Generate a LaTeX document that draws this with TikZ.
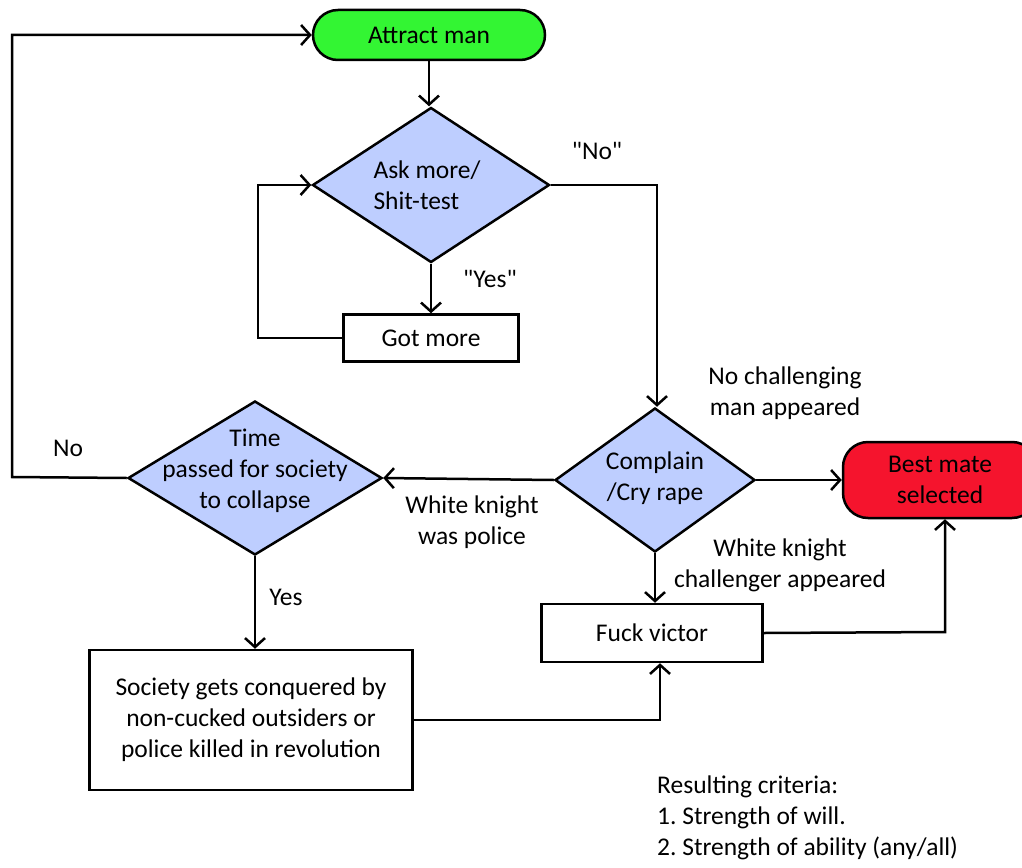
\documentclass[tikz,border=0pt]{standalone}
\usepackage{fontspec}
\setmainfont{Carlito}
\usetikzlibrary{shapes.geometric,arrows.meta,calc}
\definecolor{startgreen}{RGB}{51,245,51}
\definecolor{decblue}{RGB}{190,206,255}
\definecolor{endred}{RGB}{245,20,45}
\frenchspacing
\begin{document}
\begin{tikzpicture}[x=1pt,y=-1pt,
  every node/.style={font=\fontsize{25.5}{31}\selectfont},
  flow/.style={line width=2.5pt, draw=black},
  arr/.style={flow, -{Straight Barb[length=9pt,width=20pt,line width=2.5pt]}},
  pill/.style={draw, line width=2.5pt, rounded corners=25pt, inner sep=0pt, align=center},
  procbox/.style={draw, line width=2.5pt, fill=white, inner sep=0pt, align=center},
  decision/.style={draw, line width=2.5pt, diamond, fill=decblue, inner sep=0pt, shape aspect=1},
  lbl/.style={align=center, inner sep=0pt}
]
\useasboundingbox (0,0) rectangle (1022,867);
\clip (0,0) rectangle (1022,867);
\fill[white] (0,0) rectangle (1022,867);

% nodes
\node[pill, fill=startgreen, minimum width=232pt, minimum height=50pt] (am) at (429,35) {Attract man};
\node[decision, minimum width=237pt, minimum height=155pt] (ask) at (431,185) {};
\node[lbl, align=left] at (427,185) {Ask more/\\Shit-test};
\node[procbox, minimum width=175pt, minimum height=47pt] (got) at (431,338) {Got more};
\node[decision, minimum width=200pt, minimum height=144pt] (cmp) at (655,480) {};
\node[lbl] at (655,478) {Complain\\/Cry rape};
\node[pill, fill=endred, minimum width=194pt, minimum height=76pt] (best) at (940,480) {Best mate\\selected};
\node[decision, minimum width=254pt, minimum height=154pt] (td) at (255,478) {};
\node[lbl] at (255,471) {Time\\passed for society\\to collapse};
\node[procbox, minimum width=221pt, minimum height=58pt] (fv) at (652,633) {Fuck victor};
\node[procbox, minimum width=323pt, minimum height=140pt] (soc) at (251,720) {Society gets conquered by\\non-cucked outsiders or\\police killed in revolution};

% labels
\node[lbl] (lno1) at (597,151) {\textquotedbl No\textquotedbl};
\node[lbl] (lyes1) at (490,279) {\textquotedbl Yes\textquotedbl};
\node[lbl] (lnch) at (785,393) {No challenging\\man appeared};
\node[lbl] (lwkp) at (472,522) {White knight\\was police};
\node[lbl] (lwkc) at (780,565) {White knight\\challenger appeared};
\node[lbl] (lno2) at (68,448) {No};
\node[lbl] (lyes2) at (286,597) {Yes};
\node[lbl, align=left, anchor=north west] (crit) at (657,776) {Resulting criteria:\\1. Strength of will.\\2. Strength of ability (any/all)};

% coordinates
\coordinate (c1) at (657,185);
\coordinate (c2) at (258,338);
\coordinate (c3) at (12,477);
\coordinate (c4) at (945,632);
\coordinate (c5) at (660,720);

% connectors
\draw[arr] (am.south) -- (am.south |- ask.north);
\draw[arr] (ask.south) -- (ask.south |- got.north);
\draw[arr] (got.west) -- (c2) |- (ask.west);
\draw[arr] (ask.east) -- (c1) -- (c1 |- cmp.north);
\draw[arr] (cmp.east) -- (best.west);
\draw[arr] (cmp.south) -- (cmp.south |- fv.north);
\draw[arr] (fv.east) -- (c4) -- (c4 |- best.south);
\draw[arr] (cmp.west) -- (td.east);
\draw[arr] (td.west) -- (c3) |- (am.west);
\draw[arr] (td.south) -- (td.south |- soc.north);
\draw[arr] (soc.east) -- (c5) -- (c5 |- fv.south);
\end{tikzpicture}
\end{document}
